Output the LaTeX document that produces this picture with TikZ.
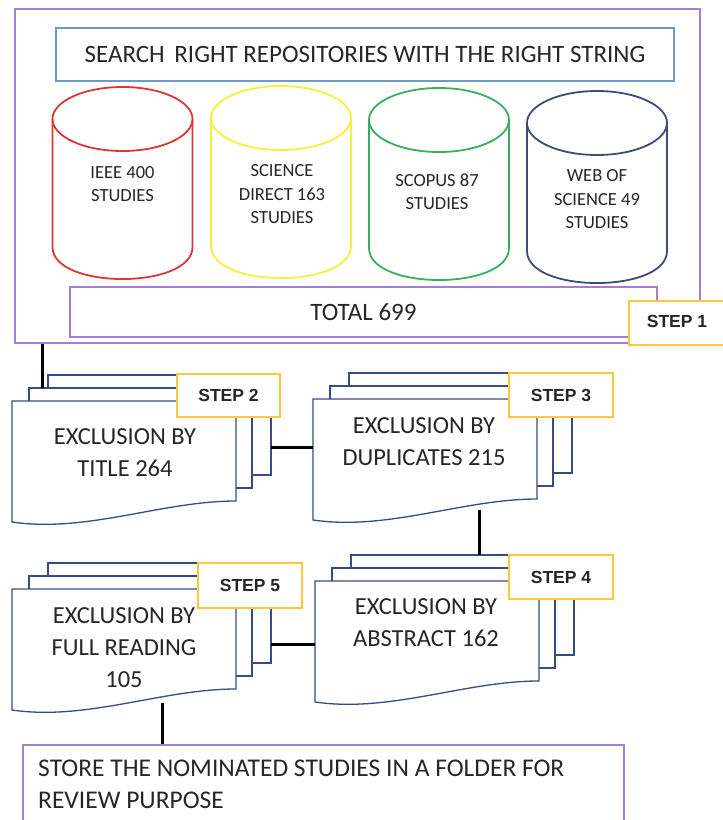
\documentclass[tikz,border=0pt]{standalone}
\usepackage{fontspec}
\setmainfont{Carlito}
\newfontfamily\arialf{Liberation Sans}
\definecolor{purp}{RGB}{165,125,215}
\definecolor{sblue}{RGB}{105,155,205}
\definecolor{cred}{RGB}{220,55,55}
\definecolor{cyel}{RGB}{245,240,60}
\definecolor{cgreen}{RGB}{55,175,95}
\definecolor{cnavy}{RGB}{65,75,115}
\definecolor{docblue}{RGB}{55,75,135}
\definecolor{gold}{RGB}{252,200,55}
\definecolor{txt}{RGB}{38,38,38}
\newcommand\docstack[3]{%
\begin{scope}[shift={(#2,#3)}]
\draw[docline] (36,-26) rectangle (259,74);
\draw[docline] (17,-13) rectangle (240,87);
\draw[docline] (0,0) -- (224,0) -- (224,100) .. controls (150,100) and (75,132) .. (0,121) -- cycle;
\coordinate (#1-fl) at (0,0);
\coordinate (#1-br) at (259,-26);
\coordinate (#1-p2) at (30,-13);
\end{scope}}
\begin{document}
\begin{tikzpicture}[x=1pt,y=-1pt,
  purpbox/.style={draw=purp, line width=1.6pt},
  stepbox/.style={draw=gold, line width=1.6pt, fill=white, text=txt,
    font=\arialf\bfseries\fontsize{17.5}{20}\selectfont},
  docline/.style={draw=docblue, line width=1.3pt, fill=white},
  conn/.style={draw=black, line width=3pt},
  cyl/.style={line width=1.8pt},
  cyltext/.style={font=\fontsize{18.5}{23.5}\selectfont, align=center, text=txt},
  doctext/.style={font=\fontsize{24.5}{32}\selectfont, align=center, text=txt}]
\clip (0,0) rectangle (723,820);
\useasboundingbox (0,0) rectangle (723,820);
% outer box
\node[purpbox, minimum width=685pt, minimum height=334pt, inner sep=0pt] (outer) at (357.5,176) {};
\node[draw=sblue, line width=1.6pt, minimum width=618pt, minimum height=53pt, inner sep=0pt,
  text=txt, font=\fontsize{25}{28}\selectfont] (search) at (365,54.5)
  {SEARCH\hspace{4pt} RIGHT REPOSITORIES WITH THE RIGHT STRING};
% cylinders
\foreach \cx/\ty/\col in {122.5/119/cred, 281/118/cyel, 439/120/cgreen, 597/123/cnavy}{
  \draw[cyl, draw=\col] (\cx,\ty) ellipse [x radius=70, y radius=32];
  \draw[cyl, draw=\col] (\cx-70,\ty) -- (\cx-70,\ty+128)
     .. controls (\cx-70,\ty+170.7) and (\cx+70,\ty+170.7) .. (\cx+70,\ty+128) -- (\cx+70,\ty);
}
\node[cyltext] (ieee) at (122.5,184) {IEEE 400\\STUDIES};
\node[cyltext] (sd) at (282,194.5) {SCIENCE\\DIRECT 163\\STUDIES};
\node[cyltext] (scopus) at (437,191.5) {SCOPUS 87\\STUDIES};
\node[cyltext] (wos) at (597,199.5) {WEB OF\\SCIENCE 49\\STUDIES};
% total
\node[purpbox, minimum width=587pt, minimum height=50pt, inner sep=0pt, text=txt,
  font=\fontsize{25}{28}\selectfont] (total) at (363.5,312) {TOTAL 699};
\node[stepbox, minimum width=101pt, minimum height=44pt, inner sep=0pt] (st1) at (679.5,323) {};
\node[text=txt, font=\arialf\bfseries\fontsize{17.5}{20}\selectfont] (st1t) at (677,321) {STEP 1};
% connector coordinates
\coordinate (ya) at (0,447);
\coordinate (yb) at (0,644);
\coordinate (s3bot) at (479,510);
\coordinate (s4top) at (479,555);
\coordinate (s5bot) at (162,703);
% document stacks
\docstack{s2}{12}{401}
\docstack{s3}{313}{399}
\docstack{s4}{315}{581}
\docstack{s5}{12}{589}
% final box
\node[purpbox, minimum width=601pt, minimum height=90pt, inner sep=0pt] (final) at (323.5,790) {};
% connectors
\draw[conn] (outer.south -| s2-p2) -- (s2-p2);
\draw[conn] (s2-br |- ya) -- (s3-fl |- ya);
\draw[conn] (s3bot) -- (s4top);
\draw[conn] (s5-br |- yb) -- (s4-fl |- yb);
\draw[conn] (s5bot) -- (final.north -| s5bot);
% step boxes
\node[stepbox, minimum width=103pt, minimum height=43pt, inner sep=0pt] (st2) at (228.5,395.5) {STEP 2};
\node[stepbox, minimum width=104pt, minimum height=44pt, inner sep=0pt] (st3) at (561,395) {STEP 3};
\node[stepbox, minimum width=104pt, minimum height=44pt, inner sep=0pt] (st4) at (561,577) {STEP 4};
\node[stepbox, minimum width=104pt, minimum height=45pt, inner sep=0pt] (st5) at (250,585.5) {STEP 5};
% document texts
\node[doctext] (t2) at (125,452.5) {EXCLUSION BY\\TITLE 264};
\node[doctext] (t3) at (424,442) {EXCLUSION BY\\DUPLICATES 215};
\node[doctext] (t4) at (426,623) {EXCLUSION BY\\ABSTRACT 162};
\node[doctext] (t5) at (124,647.5) {EXCLUSION BY\\FULL READING\\105};
\node[font=\fontsize{25.5}{32}\selectfont, align=left, text=txt, anchor=west, inner sep=0pt] (ft)
  at (38,784.5) {STORE THE NOMINATED STUDIES IN A FOLDER FOR\\REVIEW PURPOSE};
\end{tikzpicture}
\end{document}
